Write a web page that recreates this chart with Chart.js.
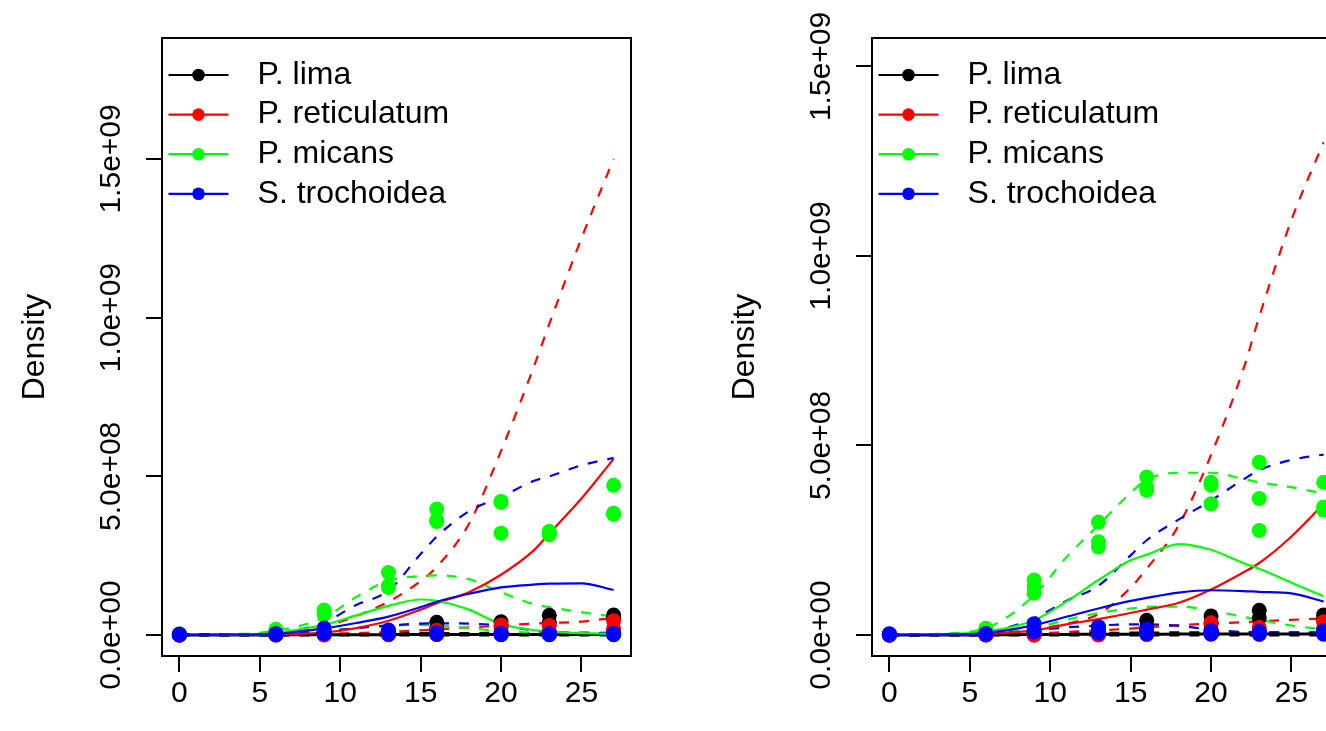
<!DOCTYPE html>
<html>
<head>
<meta charset="utf-8">
<script src="https://cdn.jsdelivr.net/npm/chart.js@4.4.0/dist/chart.umd.min.js"></script>
<style>
  html, body { margin: 0; padding: 0; background: #fff; overflow: hidden; }
  body { width: 1326px; height: 731px; position: relative; }
  .panel { position: absolute; top: 0; width: 710px; height: 731px; }
  #panelA { left: 0; }
  #panelB { left: 710px; }
</style>
</head>
<body>
<div class="panel" id="panelA"><canvas id="chartA" width="710" height="731"></canvas></div>
<div class="panel" id="panelB"><canvas id="chartB" width="710" height="731"></canvas></div>
<script>
const species = ['P. lima', 'P. reticulatum', 'P. micans', 'S. trochoidea'];
const speciesColors = ['#000000', '#ff0000', '#00ff00', '#0000ff'];

const sampleDays = [0, 6, 9, 13, 16, 20, 23, 27];
const curveDays = [0, 3, 6, 9, 11, 13, 15, 16, 18, 20, 22, 23, 25, 27];
const xTicks = [0, 5, 10, 15, 20, 25];
const yTicks = [0, 5e8, 1e9, 1.5e9];

// all densities below are in millions
// left panel: replicate counts per sampling day
const limaObsA = [[2, 1, 0], [3, 2, 1], [8, 5, 2], [15, 8, 3], [40, 22, 5], [42, 25, 6], [62, 40, 8], [63, 52, 10]];
const retiObsA = [[0, 0, 0], [1, 0, 0], [2, 1, 0], [5, 2, 1], [15, 5, 2], [32, 10, 3], [30, 12, 4], [45, 20, 5]];
const micaObsA = [[3, 2, 1], [18, 12, 10], [79, 68, 66], [197, 150, 155], [397, 358, 362], [421, 321, 418], [326, 316, 322], [472, 384, 380]];
const trocObsA = [[3, 1, 0], [5, 2, 1], [22, 10, 4], [16, 8, 3], [8, 4, 2], [6, 3, 1], [5, 2, 1], [6, 3, 1]];

// left panel: model mean and bounds at curveDays
const limaFitA = [0, 0, 0.5, 1, 1, 1.5, 2, 2, 2, 2, 2, 2, 2, 2];
const limaHiA = [0, 0.5, 1, 2, 3, 4, 5, 5, 5, 6, 6, 6, 6, 6];
const limaLoA = [0, 0, 0, 0, 0, 0, 0, 0, 0, 0, 0, 0, 0, 0];
const retiFitA = [0, 0.5, 2, 8, 22, 45, 80, 100, 135, 190, 265, 320, 430, 555];
const retiHiA = [0, 1, 5, 28, 60, 105, 170, 215, 350, 580, 840, 980, 1250, 1500];
const retiLoA = [0, 0, 1, 3, 6, 10, 15, 18, 24, 30, 36, 38, 42, 55];
const micaFitA = [0, 1, 7, 32, 62, 92, 112, 108, 80, 35, 16, 11, 6, 4];
const micaHiA = [0, 2, 14, 55, 120, 172, 186, 188, 176, 135, 98, 88, 72, 58];
const micaLoA = [0, 0, 3, 12, 22, 30, 32, 30, 22, 12, 6, 4, 2, 1];
const trocFitA = [0, 1, 4, 21, 38, 58, 88, 105, 130, 150, 159, 162, 163, 142];
const trocHiA = [0, 2, 6, 40, 95, 140, 255, 310, 390, 435, 485, 500, 535, 558];
const trocLoA = [0, 1, 3, 12, 22, 30, 36, 37, 36, 30, 15, 10, 7, 6];

// right panel: replicate counts per sampling day
const limaObsB = [[2, 1, 0], [3, 2, 1], [8, 4, 2], [20, 10, 3], [39, 20, 5], [50, 30, 6], [65, 45, 8], [53, 40, 10]];
const retiObsB = [[0, 0, 0], [1, 0, 0], [1, 0, 0], [2, 1, 0], [10, 4, 1], [32, 12, 3], [20, 8, 2], [35, 18, 4]];
const micaObsB = [[2, 1, 1], [18, 15, 12], [145, 127, 110], [298, 246, 232], [417, 382, 390], [403, 395, 346], [456, 360, 276], [403, 338, 330]];
const trocObsB = [[3, 1, 0], [4, 2, 1], [30, 15, 8], [22, 10, 5], [15, 8, 3], [12, 6, 2], [10, 5, 2], [12, 6, 2]];

// right panel: model mean and bounds at curveDays
const limaFitB = [0, 0, 0.5, 1, 1.5, 2, 2, 2, 2.5, 2.5, 2.5, 2.5, 2.5, 2.5];
const limaHiB = [0, 0.5, 1, 2, 3, 4, 5, 5, 6, 6, 6, 6, 6, 6];
const limaLoB = [0, 0, 0, 0, 0, 0, 0, 0, 0, 0, 0, 0, 0, 0];
const retiFitB = [0, 1, 3, 12, 28, 42, 58, 67, 85, 120, 165, 190, 260, 346];
const retiHiB = [0, 1, 4, 15, 30, 55, 125, 175, 290, 475, 700, 840, 1095, 1300];
const retiLoB = [0, 0, 1, 4, 8, 12, 17, 20, 26, 30, 34, 36, 40, 44];
const micaFitB = [0, 2, 9, 39, 88, 145, 197, 212, 240, 225, 190, 175, 138, 102];
const micaHiB = [0, 3, 18, 105, 205, 290, 375, 410, 428, 428, 412, 403, 390, 373];
const micaLoB = [0, 0.5, 4, 18, 40, 58, 70, 74, 75, 65, 48, 40, 25, 15];
const trocFitB = [0, 1, 5, 26, 48, 70, 90, 98, 112, 118, 116, 114, 110, 88];
const trocHiB = [0, 2, 8, 44, 90, 130, 210, 250, 305, 355, 410, 435, 462, 476];
const trocLoB = [0, 0.5, 2, 12, 20, 25, 28, 28, 24, 14, 8, 7, 6, 5];

const MILLION = 1e6;
const FONT = '"Liberation Sans", Arial, Helvetica, sans-serif';
const TICK_SIZE = 30;
const LABEL_SIZE = 32;

// R style exponent labels, e.g. 5.0e+08
function sci(v) {
  const [m, e] = v.toExponential(1).split('e');
  return m + 'e' + e[0] + e.slice(1).padStart(2, '0');
}

function buildDatasets(obs, fits, his, los) {
  const sets = [];
  species.forEach((name, i) => {
    const col = speciesColors[i];
    const pts = [];
    sampleDays.forEach((d, k) => obs[i][k].forEach(v => pts.push({x: d, y: v * MILLION})));
    sets.push({
      label: name, data: pts, showLine: false,
      pointRadius: 7.5, pointBackgroundColor: col, pointBorderWidth: 0,
      order: 3 - i
    });
    const curve = arr => curveDays.map((d, k) => ({x: d, y: arr[k] * MILLION}));
    const lineBase = {
      showLine: true, pointRadius: 0, borderColor: col,
      borderWidth: i === 0 ? 3 : 2.2,
      cubicInterpolationMode: 'monotone', fill: false
    };
    sets.push(Object.assign({}, lineBase, {data: curve(fits[i]), order: 20 - i}));
    sets.push(Object.assign({}, lineBase, {data: curve(his[i]), borderDash: [10, 10], order: 30 - i}));
    sets.push(Object.assign({}, lineBase, {data: curve(los[i]), borderDash: [10, 10], order: 30 - i}));
  });
  return sets;
}

// plot frame drawn round the whole plotting region
const framePlugin = {
  id: 'frame',
  afterDatasetsDraw(chart) {
    const {ctx, chartArea: a} = chart;
    ctx.save();
    ctx.strokeStyle = '#000';
    ctx.lineWidth = 2;
    ctx.strokeRect(a.left, a.top, a.right - a.left, a.bottom - a.top);
    ctx.restore();
  }
};

// vertical tick labels on the y axis
const yLabelPlugin = {
  id: 'yLabels',
  afterDraw(chart) {
    const s = chart.scales.y;
    const ctx = chart.ctx;
    const x = chart.chartArea.left - 50;
    ctx.save();
    ctx.fillStyle = '#000';
    ctx.font = TICK_SIZE + 'px ' + FONT;
    ctx.textAlign = 'center';
    ctx.textBaseline = 'middle';
    s.ticks.forEach(t => {
      ctx.save();
      ctx.translate(x, s.getPixelForValue(t.value));
      ctx.rotate(-Math.PI / 2);
      ctx.fillText(sci(t.value), 0, 0);
      ctx.restore();
    });
    ctx.restore();
  }
};

// legend: line with a dot, top left inside the frame
const keyPlugin = {
  id: 'key',
  afterDraw(chart) {
    const {ctx, chartArea: a} = chart;
    ctx.save();
    ctx.font = LABEL_SIZE + 'px ' + FONT;
    ctx.textBaseline = 'middle';
    ctx.textAlign = 'left';
    species.forEach((name, i) => {
      const y = a.top + 37 + i * 39.6;
      const x0 = a.left + 6.5;
      ctx.strokeStyle = speciesColors[i];
      ctx.fillStyle = speciesColors[i];
      ctx.lineWidth = 2.2;
      ctx.beginPath();
      ctx.moveTo(x0, y);
      ctx.lineTo(x0 + 60, y);
      ctx.stroke();
      ctx.beginPath();
      ctx.arc(x0 + 30, y, 6.3, 0, Math.PI * 2);
      ctx.fill();
      ctx.fillStyle = '#000';
      ctx.fillText(name, a.left + 95.6, y);
    });
    ctx.restore();
  }
};

function makeChart(id, datasets, yMin, yMax) {
  return new Chart(document.getElementById(id), {
    type: 'scatter',
    data: {datasets},
    options: {
      responsive: false,
      animation: false,
      events: [],
      layout: {padding: {top: 38, right: 79, bottom: 0, left: 0}},
      plugins: {legend: {display: false}, tooltip: {enabled: false}},
      scales: {
        x: {
          type: 'linear', min: -1.08, max: 28.08,
          afterBuildTicks: s => { s.ticks = xTicks.map(v => ({value: v})); },
          afterFit: s => { s.height = 75; },
          border: {display: false},
          grid: {drawOnChartArea: false, drawTicks: true, tickLength: 16, color: '#000', lineWidth: 2},
          ticks: {color: '#000', padding: 4, maxRotation: 0, font: {family: FONT, size: TICK_SIZE}}
        },
        y: {
          type: 'linear', min: yMin, max: yMax,
          afterBuildTicks: s => { s.ticks = yTicks.map(v => ({value: v})); },
          afterFit: s => { s.width = 162; },
          border: {display: false},
          grid: {drawOnChartArea: false, drawTicks: true, tickLength: 16, color: '#000', lineWidth: 2},
          ticks: {display: false},
          title: {
            display: true, text: 'Density', color: '#000',
            padding: {top: 16, bottom: 0},
            font: {family: FONT, size: LABEL_SIZE}
          }
        }
      }
    },
    plugins: [framePlugin, yLabelPlugin, keyPlugin]
  });
}

makeChart('chartA',
  buildDatasets([limaObsA, retiObsA, micaObsA, trocObsA],
                [limaFitA, retiFitA, micaFitA, trocFitA],
                [limaHiA, retiHiA, micaHiA, trocHiA],
                [limaLoA, retiLoA, micaLoA, trocLoA]),
  -6.6e7, 1.881e9);

makeChart('chartB',
  buildDatasets([limaObsB, retiObsB, micaObsB, trocObsB],
                [limaFitB, retiFitB, micaFitB, trocFitB],
                [limaHiB, retiHiB, micaHiB, trocHiB],
                [limaLoB, retiLoB, micaLoB, trocLoB]),
  -5.54e7, 1.575e9);
</script>
</body>
</html>
